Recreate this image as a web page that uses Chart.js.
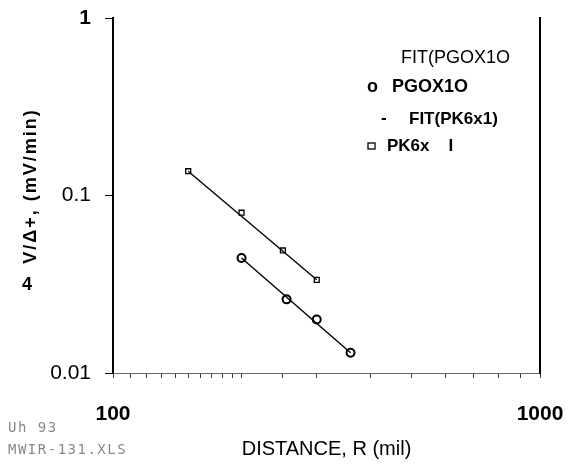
<!DOCTYPE html>
<html>
<head>
<meta charset="utf-8">
<script src="https://cdn.jsdelivr.net/npm/chart.js@4.4.1/dist/chart.umd.min.js"></script>
<style>
  html, body { margin: 0; padding: 0; background: #fff; }
  #wrap { width: 568px; height: 465px; position: relative; }
</style>
</head>
<body>
<div id="wrap"><canvas id="decayChart"></canvas></div>
<script>
// Data (log-log)
const pk6Dist = [150, 200, 250, 300];
const pk6Values = [0.137, 0.080, 0.049, 0.0335];
const pgoxDist = [200, 255, 300, 360];
const pgoxValues = [0.0445, 0.026, 0.020, 0.013];
const fitPk6Dist = [150, 300];
const fitPk6Values = [0.137, 0.0335];
const fitPgoxDist = [200, 360];
const fitPgoxValues = [0.0445, 0.013];

const yTickLabels = [1, 0.1, 0.01];
const xTickLabels = [100, 1000];

const FONT = "'Liberation Sans', Arial, sans-serif";

function toPoints(xs, ys) {
    return xs.map((x, i) => ({ x: x, y: ys[i] }));
}

// Legend, y title and footer texts drawn by hand
const extraText = {
    id: "extraText",
    afterDraw(chart) {
        const ctx = chart.ctx;
        const ds = chart.data.datasets;
        ctx.save();
        ctx.fillStyle = "#000";
        ctx.strokeStyle = "#000";
        ctx.textBaseline = "middle";

        // legend
        ctx.font = "18px " + FONT;
        ctx.fillText(ds[0].label, 401, 58);
        ctx.font = "bold 18px " + FONT;
        ctx.fillText("o", 367, 87);
        ctx.fillText(ds[1].label, 392, 87);
        ctx.font = "bold 17px " + FONT;
        ctx.fillText("-", 381, 118);
        ctx.fillText(ds[2].label, 409, 119);
        ctx.lineWidth = 1.3;
        ctx.strokeRect(368, 143, 7, 6);
        ctx.fillText(ds[3].label, 387, 146);

        // y axis title, spaced out like the scan
        ctx.save();
        ctx.translate(31, 186);
        ctx.rotate(-Math.PI / 2);
        ctx.textAlign = "center";
        ctx.font = "bold 18px " + FONT;
        ctx.letterSpacing = "2px";
        ctx.fillText("V/Δ+, (mV/min)", 0, 0);
        ctx.restore();
        ctx.font = "bold 18px " + FONT;
        ctx.fillText("4", 22, 285);

        // file footer
        ctx.fillStyle = "#888";
        ctx.font = "14px 'DejaVu Sans Mono', monospace";
        ctx.letterSpacing = "1.5px";
        ctx.fillText("Uh 93", 8, 428);
        ctx.fillText("MWIR-131.XLS", 8, 450);
        ctx.restore();
    }
};

const ctx = document.getElementById("decayChart").getContext("2d");
const decayChart = new Chart(ctx, {
    type: "scatter",
    data: {
        datasets: [
            {
                label: "FIT(PGOX1O",
                data: toPoints(fitPgoxDist, fitPgoxValues),
                showLine: true,
                borderColor: "#000",
                borderWidth: 1.4,
                pointRadius: 0
            },
            {
                label: "PGOX1O",
                data: toPoints(pgoxDist, pgoxValues),
                borderColor: "#000",
                backgroundColor: "#fff",
                borderWidth: 2,
                pointStyle: "circle",
                pointRadius: 4
            },
            {
                label: "FIT(PK6x1)",
                data: toPoints(fitPk6Dist, fitPk6Values),
                showLine: true,
                borderColor: "#000",
                borderWidth: 1.4,
                pointRadius: 0
            },
            {
                label: "PK6x    I",
                data: toPoints(pk6Dist, pk6Values),
                borderColor: "#000",
                backgroundColor: "#fff",
                borderWidth: 1.3,
                pointStyle: "rect",
                pointRadius: 3.5
            }
        ]
    },
    options: {
        responsive: true,
        maintainAspectRatio: false,
        animation: false,
        layout: { padding: { top: 18, right: 28, left: 0, bottom: 0 } },
        plugins: {
            legend: { display: false },
            tooltip: { enabled: false }
        },
        scales: {
            x: {
                type: "logarithmic",
                min: 100,
                max: 1000,
                afterFit: scale => {
                    scale.height = 92;
                    scale.paddingLeft = 0;
                    scale.paddingRight = 0;
                },
                border: { display: true, color: "#666", width: 1, dash: [3, 7] },
                grid: {
                    drawOnChartArea: false,
                    drawTicks: true,
                    tickLength: 5,
                    color: "#333"
                },
                ticks: {
                    autoSkip: false,
                    maxRotation: 0,
                    padding: 24,
                    color: "#000",
                    font: { family: FONT, size: 21, weight: "bold" },
                    callback: value => xTickLabels.includes(value) ? String(value) : ""
                },
                title: {
                    display: true,
                    text: "DISTANCE, R (mil)",
                    color: "#000",
                    padding: { top: 0, bottom: 4 },
                    font: { family: FONT, size: 20 }
                }
            },
            y: {
                type: "logarithmic",
                min: 0.01,
                max: 1,
                afterFit: scale => {
                    scale.width = 113;
                    scale.paddingTop = 0;
                    scale.paddingBottom = 0;
                },
                border: { display: true, color: "#000", width: 2 },
                grid: {
                    drawOnChartArea: false,
                    drawTicks: true,
                    tickLength: 8,
                    color: c => yTickLabels.includes(c.tick.value) ? "#000" : "rgba(0,0,0,0)"
                },
                ticks: {
                    autoSkip: false,
                    padding: 14,
                    color: "#000",
                    font: c => ({ family: FONT, size: 21, weight: c.tick && c.tick.value === 1 ? "bold" : "normal" }),
                    callback: value => yTickLabels.includes(value) ? String(value) : ""
                }
            },
            yRight: {
                type: "logarithmic",
                position: "right",
                min: 0.01,
                max: 1,
                afterFit: scale => {
                    scale.width = 0;
                    scale.paddingTop = 0;
                    scale.paddingBottom = 0;
                },
                border: { display: true, color: "#000", width: 2 },
                grid: { display: false },
                ticks: { display: false }
            }
        }
    },
    plugins: [extraText]
});
</script>
</body>
</html>
